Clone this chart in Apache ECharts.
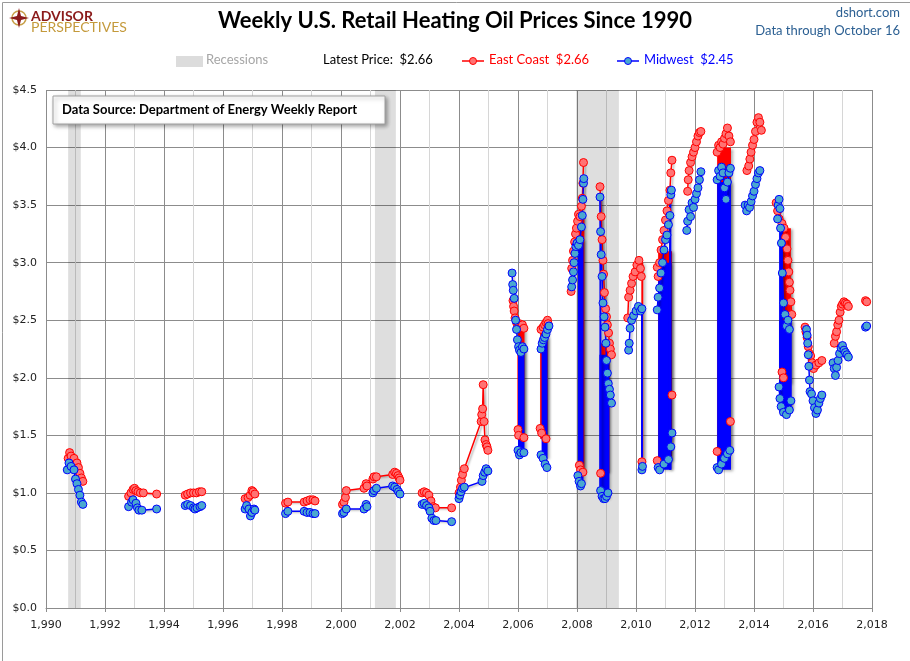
<!doctype html>
<html lang="en">
<head>
  <meta charset="UTF-8">
  <script src="https://cdn.jsdelivr.net/npm/echarts@6/dist/echarts.min.js"></script>
  <title>Weekly U.S. Retail Heating Oil Prices</title>
  <style type="text/css">
    html, body { width: 100%; height: 100%; margin: 0; padding: 0; background: #fff; }
    #canvas { width: 910px; height: 661px; }
  </style>
</head>
<body>
<div id="canvas"></div>

<script type="text/javascript">
  // recession shading, [start, end] in decimal years
  const recessions = [[1990.75, 1991.18], [2001.15, 2001.86], [2007.97, 2009.42]]

  // East Coast weekly prices, split into the runs the chart shows
  const eastCoast = [
    [[1990.75, 1.30], [1990.8, 1.35], [1990.85, 1.32], [1990.95, 1.30], [1991.05, 1.26], [1991.1, 1.22], [1991.15, 1.17], [1991.2, 1.13], [1991.25, 1.10]],
    [[1992.8, 0.97], [1992.88, 1.00], [1992.95, 1.03], [1993.0, 1.04], [1993.05, 1.02], [1993.12, 1.01], [1993.2, 1.00], [1993.3, 1.00], [1993.75, 0.99]],
    [[1994.72, 0.98], [1994.8, 0.99], [1994.9, 1.00], [1995.0, 1.00], [1995.1, 1.00], [1995.2, 1.01], [1995.28, 1.01]],
    [[1996.75, 0.95], [1996.85, 0.96], [1996.92, 0.98], [1996.98, 1.02], [1997.02, 1.01], [1997.08, 0.99]],
    [[1998.12, 0.91], [1998.2, 0.92], [1998.75, 0.92], [1998.85, 0.93], [1998.95, 0.94], [1999.05, 0.94], [1999.12, 0.93]],
    [[2000.05, 0.90], [2000.1, 0.92], [2000.15, 0.96], [2000.18, 1.02], [2000.78, 1.04], [2000.85, 1.08], [2000.88, 1.06]],
    [[2001.08, 1.12], [2001.12, 1.14], [2001.2, 1.14], [2001.75, 1.16], [2001.82, 1.18], [2001.88, 1.17], [2001.93, 1.15], [2001.97, 1.13], [2002.0, 1.11]],
    [[2002.75, 1.00], [2002.82, 1.01], [2002.9, 1.00], [2002.98, 0.98], [2003.05, 0.93], [2003.12, 0.88], [2003.2, 0.87], [2003.75, 0.87]],
    [[2004.0, 1.00], [2004.05, 1.05], [2004.08, 1.11], [2004.12, 1.16], [2004.18, 1.21], [2004.75, 1.62], [2004.77, 1.68], [2004.8, 1.73], [2004.82, 1.94], [2004.85, 1.62], [2004.88, 1.46], [2004.92, 1.42], [2004.95, 1.40], [2004.98, 1.37]],
    [[2005.83, 2.67], [2005.85, 2.62], [2005.87, 2.58], [2005.9, 2.52], [2005.95, 2.48], [2006.0, 2.45], [2006.05, 2.47], [2006.1, 2.44], [2006.15, 2.46], [2006.2, 2.43]],
    [[2006.0, 1.55], [2006.02, 1.50], [2006.2, 1.48]],
    [[2006.78, 2.42], [2006.85, 2.44], [2006.9, 2.46], [2006.95, 2.48], [2007.0, 2.50], [2007.02, 2.47]],
    [[2006.75, 1.56], [2006.8, 1.52], [2006.95, 1.47]],
    [[2007.8, 2.75], [2007.82, 2.95], [2007.85, 3.02], [2007.88, 3.10], [2007.92, 3.18], [2007.95, 3.25], [2007.98, 3.30], [2008.02, 3.36], [2008.05, 3.42], [2008.1, 3.40], [2008.15, 3.49], [2008.18, 3.56], [2008.2, 3.69], [2008.22, 3.87]],
    [[2008.08, 1.24], [2008.12, 1.20], [2008.2, 1.18]],
    [[2008.78, 3.66], [2008.82, 3.40], [2008.85, 3.20], [2008.88, 3.02], [2008.9, 2.90], [2008.93, 2.74], [2008.97, 2.60], [2009.0, 2.53], [2009.03, 2.46], [2009.07, 2.39], [2009.1, 2.30], [2009.13, 2.25], [2009.17, 2.20]],
    [[2008.8, 1.17]],
    [[2009.72, 2.52], [2009.75, 2.70], [2009.8, 2.76], [2009.85, 2.82], [2009.9, 2.88], [2009.97, 2.92], [2010.03, 2.98], [2010.1, 3.02], [2010.15, 2.95], [2010.18, 2.88]],
    [[2010.2, 1.27]],
    [[2010.72, 2.96], [2010.75, 2.88], [2010.8, 3.00], [2010.85, 3.11], [2010.9, 3.20], [2010.95, 3.28], [2011.0, 3.37], [2011.05, 3.45], [2011.1, 3.54], [2011.15, 3.63], [2011.18, 3.78], [2011.22, 3.89]],
    [[2010.72, 1.28]],
    [[2011.22, 1.85]],
    [[2011.75, 3.62], [2011.77, 3.72], [2011.8, 3.80], [2011.85, 3.87], [2011.9, 3.92], [2011.95, 3.96], [2012.0, 4.00], [2012.05, 4.05], [2012.1, 4.10], [2012.15, 4.13], [2012.2, 4.14]],
    [[2012.75, 3.96], [2012.8, 4.02], [2012.85, 4.00], [2012.9, 4.05], [2012.95, 4.03], [2013.0, 4.08], [2013.05, 4.12], [2013.1, 4.17], [2013.15, 4.10], [2013.2, 4.05]],
    [[2012.75, 1.36]],
    [[2013.2, 1.62]],
    [[2013.76, 3.80], [2013.82, 3.84], [2013.86, 3.90], [2013.9, 3.96], [2013.95, 4.02], [2014.0, 4.07], [2014.05, 4.14], [2014.1, 4.22], [2014.15, 4.26], [2014.2, 4.22], [2014.25, 4.15]],
    [[2014.75, 3.52], [2014.8, 3.45], [2014.85, 3.38], [2014.95, 3.34], [2015.02, 3.30], [2015.07, 3.22], [2015.12, 3.12], [2015.15, 3.02], [2015.18, 2.92], [2015.2, 2.83], [2015.22, 2.76], [2015.25, 2.66], [2015.28, 2.55]],
    [[2014.95, 2.05], [2015.0, 2.00]],
    [[2015.73, 2.44], [2015.76, 2.40], [2015.8, 2.35], [2015.84, 2.27], [2015.88, 2.21], [2015.92, 2.19], [2015.97, 2.13], [2016.02, 2.08], [2016.1, 2.11], [2016.2, 2.13], [2016.3, 2.15]],
    [[2016.72, 2.30], [2016.76, 2.36], [2016.8, 2.40], [2016.84, 2.46], [2016.88, 2.50], [2016.92, 2.57], [2016.96, 2.62], [2017.0, 2.64], [2017.05, 2.66], [2017.1, 2.65], [2017.15, 2.64], [2017.2, 2.62]],
    [[2017.78, 2.67], [2017.82, 2.66]]
  ]

  // Midwest weekly prices
  const midwest = [
    [[1990.72, 1.20], [1990.78, 1.26], [1990.85, 1.23], [1990.95, 1.20], [1991.0, 1.12], [1991.05, 1.08], [1991.1, 1.03], [1991.15, 0.98], [1991.2, 0.92], [1991.25, 0.90]],
    [[1992.8, 0.88], [1992.9, 0.92], [1992.95, 0.94], [1993.05, 0.91], [1993.1, 0.87], [1993.15, 0.85], [1993.25, 0.85], [1993.75, 0.86]],
    [[1994.72, 0.89], [1994.8, 0.90], [1994.9, 0.89], [1995.0, 0.87], [1995.05, 0.86], [1995.12, 0.87], [1995.22, 0.88], [1995.28, 0.89]],
    [[1996.75, 0.86], [1996.8, 0.89], [1996.88, 0.86], [1996.93, 0.80], [1996.98, 0.83], [1997.05, 0.86], [1997.08, 0.85]],
    [[1998.12, 0.82], [1998.2, 0.84], [1998.75, 0.84], [1998.85, 0.83], [1998.95, 0.83], [1999.05, 0.82], [1999.12, 0.82]],
    [[2000.05, 0.82], [2000.1, 0.83], [2000.18, 0.86], [2000.78, 0.86], [2000.85, 0.90], [2000.88, 0.88]],
    [[2001.08, 1.00], [2001.12, 1.02], [2001.2, 1.04], [2001.75, 1.06], [2001.82, 1.05], [2001.9, 1.03], [2001.95, 1.01], [2002.0, 0.99]],
    [[2002.75, 0.90], [2002.82, 0.91], [2002.9, 0.89], [2002.98, 0.87], [2003.02, 0.84], [2003.08, 0.78], [2003.15, 0.76], [2003.22, 0.76], [2003.75, 0.75]],
    [[2004.0, 0.95], [2004.03, 0.98], [2004.07, 1.01], [2004.12, 1.04], [2004.18, 1.05], [2004.78, 1.10], [2004.82, 1.15], [2004.87, 1.18], [2004.92, 1.21], [2004.98, 1.19]],
    [[2005.8, 2.91], [2005.82, 2.81], [2005.84, 2.76], [2005.87, 2.69], [2005.92, 2.50], [2005.95, 2.42], [2005.98, 2.33], [2006.02, 2.27], [2006.05, 2.24], [2006.1, 2.22], [2006.15, 2.27], [2006.2, 2.25]],
    [[2006.0, 1.37], [2006.05, 1.33], [2006.1, 1.35], [2006.2, 1.35]],
    [[2006.78, 2.25], [2006.82, 2.30], [2006.86, 2.33], [2006.9, 2.35], [2006.95, 2.38], [2007.0, 2.42], [2007.05, 2.45]],
    [[2006.78, 1.33], [2006.85, 1.30], [2006.92, 1.25], [2006.98, 1.22]],
    [[2007.82, 2.79], [2007.85, 2.85], [2007.88, 2.92], [2007.9, 3.00], [2007.93, 3.08], [2007.96, 3.14], [2008.0, 3.17], [2008.05, 3.15], [2008.1, 3.20], [2008.15, 3.31], [2008.18, 3.41], [2008.2, 3.55], [2008.22, 3.69], [2008.23, 3.73]],
    [[2008.03, 1.15], [2008.07, 1.10], [2008.12, 1.06], [2008.15, 1.08]],
    [[2008.78, 3.57], [2008.8, 3.27], [2008.82, 3.07], [2008.85, 2.88], [2008.88, 2.65], [2008.92, 2.53], [2008.95, 2.44], [2008.98, 2.30], [2009.0, 2.15], [2009.03, 2.04], [2009.06, 1.95], [2009.1, 1.90], [2009.13, 1.85], [2009.17, 1.78]],
    [[2008.8, 1.02], [2008.85, 0.97], [2008.9, 0.95], [2008.95, 0.95], [2009.0, 0.97], [2009.05, 1.00]],
    [[2009.75, 2.24], [2009.77, 2.30], [2009.8, 2.43], [2009.85, 2.50], [2009.92, 2.54], [2010.0, 2.58], [2010.08, 2.62], [2010.15, 2.58], [2010.2, 2.60]],
    [[2010.2, 1.20], [2010.22, 1.23]],
    [[2010.72, 2.59], [2010.75, 2.70], [2010.8, 2.78], [2010.85, 2.91], [2010.9, 3.00], [2010.95, 3.11], [2011.0, 3.20], [2011.05, 3.24], [2011.1, 3.33], [2011.15, 3.41], [2011.18, 3.59], [2011.2, 3.63]],
    [[2010.75, 1.22], [2010.8, 1.20], [2010.95, 1.25], [2011.1, 1.29], [2011.18, 1.40], [2011.22, 1.52]],
    [[2011.72, 3.28], [2011.75, 3.36], [2011.8, 3.46], [2011.85, 3.40], [2011.9, 3.52], [2011.95, 3.48], [2012.0, 3.55], [2012.05, 3.60], [2012.1, 3.65], [2012.15, 3.72], [2012.2, 3.79]],
    [[2012.75, 3.72], [2012.8, 3.80], [2012.85, 3.75], [2012.9, 3.83], [2012.95, 3.78], [2013.0, 3.65], [2013.05, 3.55], [2013.1, 3.70], [2013.15, 3.78], [2013.2, 3.82]],
    [[2012.75, 1.22], [2012.8, 1.20], [2012.9, 1.25], [2013.0, 1.30], [2013.1, 1.34], [2013.18, 1.37]],
    [[2013.7, 3.50], [2013.75, 3.45], [2013.8, 3.50], [2013.85, 3.48], [2013.9, 3.53], [2013.95, 3.58], [2014.0, 3.62], [2014.05, 3.68], [2014.1, 3.73], [2014.15, 3.78], [2014.2, 3.80]],
    [[2014.8, 3.38], [2014.82, 3.50], [2014.85, 3.55], [2014.88, 3.47], [2014.9, 3.30], [2014.93, 3.17], [2014.96, 2.91], [2015.0, 2.65], [2015.05, 2.55], [2015.1, 2.45], [2015.15, 2.50], [2015.2, 2.42]],
    [[2014.85, 1.92], [2014.88, 1.82], [2014.92, 1.75], [2015.0, 1.70], [2015.1, 1.68], [2015.2, 1.72], [2015.25, 1.80]],
    [[2015.78, 2.42], [2015.8, 2.37], [2015.82, 2.30], [2015.84, 2.20], [2015.86, 2.10], [2015.88, 1.98], [2015.9, 1.88], [2015.95, 1.86], [2016.0, 1.80], [2016.05, 1.74], [2016.1, 1.69], [2016.15, 1.72], [2016.2, 1.78], [2016.25, 1.82], [2016.3, 1.85]],
    [[2016.68, 2.13], [2016.72, 2.08], [2016.76, 2.02], [2016.8, 2.09], [2016.85, 2.15], [2016.9, 2.21], [2016.95, 2.26], [2017.0, 2.28], [2017.05, 2.24], [2017.1, 2.22], [2017.15, 2.20], [2017.2, 2.18]],
    [[2017.78, 2.44], [2017.82, 2.45]]
  ]

  // solid zig-zag blocks where weeks jump between high and low: [x0, x1, low, high]
  const eastBands = [
    [2005.98, 2006.22, 1.47, 2.45], [2006.75, 2007.0, 1.47, 2.45], [2008.05, 2008.25, 1.18, 3.40],
    [2008.8, 2009.1, 1.17, 2.30], [2010.18, 2010.22, 1.27, 3.00], [2010.75, 2011.22, 1.28, 3.10],
    [2012.75, 2013.22, 1.36, 4.00], [2014.95, 2015.25, 1.95, 3.30]
  ]
  const midwestBands = [
    [2006.0, 2006.22, 1.35, 2.25], [2006.8, 2007.0, 1.30, 2.35], [2008.03, 2008.22, 1.08, 3.20],
    [2008.76, 2009.1, 0.95, 2.20], [2008.76, 2008.82, 0.95, 3.57], [2010.17, 2010.22, 1.20, 2.60],
    [2010.75, 2011.2, 1.20, 3.00], [2011.12, 2011.2, 1.20, 3.60], [2012.75, 2013.22, 1.20, 3.70],
    [2014.85, 2014.98, 1.70, 3.40], [2014.85, 2015.28, 1.72, 2.50]
  ]

  const RED = '#ff0000'
  const BLUE = '#0000ff'
  const lastOf = segs => { const s = segs[segs.length - 1]; return s[s.length - 1][1] }
  const eastLatest = lastOf(eastCoast)
  const midLatest = lastOf(midwest)

  const chart = echarts.init(document.getElementById('canvas'))

  const bandSeries = (bands, color) => ({
    type: 'custom',
    data: bands,
    encode: { x: [0, 1], y: [2, 3] },
    renderItem: (params, api) => {
      const a = api.coord([api.value(0), api.value(3)])
      const b = api.coord([api.value(1), api.value(2)])
      return {
        type: 'rect',
        shape: { x: a[0], y: a[1], width: Math.max(b[0] - a[0], 2), height: b[1] - a[1] },
        style: { fill: color, shadowBlur: 3, shadowOffsetX: 2, shadowOffsetY: 1, shadowColor: 'rgba(0,0,0,0.35)' }
      }
    },
    silent: true
  })

  const lineSeries = (segs, color, fill) => segs.map(seg => ({
    type: 'line',
    data: seg,
    symbol: 'circle',
    symbolSize: 8,
    showAllSymbol: true,
    animation: false,
    lineStyle: { color: color, width: 1.5, shadowBlur: 2, shadowOffsetX: 2, shadowOffsetY: 1, shadowColor: 'rgba(0,0,0,0.3)' },
    itemStyle: { color: fill, borderColor: color, borderWidth: 1 },
    silent: true
  }))

  const series = [
    {
      type: 'line',
      data: [],
      markArea: {
        silent: true,
        itemStyle: { color: 'rgba(0,0,0,0.13)' },
        data: recessions.map(r => [{ xAxis: r[0] }, { xAxis: r[1] }])
      }
    },
    bandSeries(eastBands, RED),
    ...lineSeries(eastCoast, RED, '#ff7373'),
    bandSeries(midwestBands, BLUE),
    ...lineSeries(midwest, BLUE, '#4aa8cf')
  ]

  const font = 'Lato, "Open Sans", sans-serif'

  chart.setOption({
    animation: false,
    grid: { left: 46, right: 38, top: 90, bottom: 53 },
    xAxis: [
      {
        type: 'value', min: 1990, max: 2018, interval: 1,
        axisLabel: { show: false }, axisTick: { show: false }, axisLine: { show: false },
        splitLine: { show: true, lineStyle: { color: ['#8c8c8c', '#d6d6d6'], width: 1 } }
      },
      {
        type: 'value', min: 1990, max: 2018, interval: 2, position: 'bottom',
        axisLine: { show: true, lineStyle: { color: '#8c8c8c' } },
        axisTick: { show: true, length: 4, lineStyle: { color: '#8c8c8c' } },
        axisLabel: { fontSize: 11, color: '#222', fontFamily: '"DejaVu Sans"', margin: 12 },
        splitLine: { show: false }
      }
    ],
    yAxis: {
      type: 'value', min: 0, max: 4.5, interval: 0.5,
      axisLine: { show: false }, axisTick: { show: false },
      axisLabel: { fontSize: 11, color: '#222', fontFamily: '"DejaVu Sans"', margin: 9, formatter: v => '$' + v.toFixed(1) },
      splitLine: { lineStyle: { color: '#8c8c8c' } }
    },
    graphic: [
      { type: 'rect', left: 0, top: 0, shape: { width: 909, height: 660 }, style: { fill: 'none', stroke: '#9a9a9a', lineWidth: 1 }, z: 100 },
      // logo
      { type: 'circle', shape: { cx: 19, cy: 18, r: 7 }, style: { fill: 'none', stroke: '#c8a04a', lineWidth: 1.5 } },
      { type: 'polygon', shape: { points: [[19, 8], [21, 16], [29, 18], [21, 20], [19, 28], [17, 20], [9, 18], [17, 16]] }, style: { fill: '#8b1a1a' } },
      { type: 'text', left: 31, top: 9, style: { text: 'ADVISOR', fontSize: 14, fontWeight: 'bold', fill: '#8b1a1a', fontFamily: font } },
      { type: 'text', left: 31, top: 20, style: { text: 'PERSPECTIVES', fontSize: 14, fill: '#c49a3c', fontFamily: font } },
      // title
      { type: 'text', left: 'center', top: 10, style: { text: 'Weekly U.S. Retail Heating Oil Prices Since 1990', fontSize: 22, fontWeight: 'bold', fill: '#000', fontFamily: font } },
      { type: 'text', right: 10, top: 6, style: { text: 'dshort.com', fontSize: 13, fill: '#2b5f92', fontFamily: font } },
      { type: 'text', right: 10, top: 24, style: { text: 'Data through October 16', fontSize: 13, fill: '#2b5f92', fontFamily: font } },
      // legend row
      { type: 'rect', shape: { x: 176, y: 56, width: 27, height: 11 }, style: { fill: '#dcdcdc' } },
      { type: 'text', left: 206, top: 53, style: { text: 'Recessions', fontSize: 13, fill: '#a6a6a6', fontFamily: font } },
      { type: 'text', left: 323, top: 53, style: { text: 'Latest Price:  $' + eastLatest.toFixed(2), fontSize: 13, fill: '#000', fontFamily: font } },
      { type: 'line', shape: { x1: 462, y1: 61, x2: 484, y2: 61 }, style: { stroke: RED, lineWidth: 1.5 } },
      { type: 'circle', shape: { cx: 473, cy: 61, r: 3.5 }, style: { fill: '#ff7373', stroke: RED } },
      { type: 'text', left: 489, top: 53, style: { text: 'East Coast  $' + eastLatest.toFixed(2), fontSize: 13, fill: RED, fontFamily: font } },
      { type: 'line', shape: { x1: 617, y1: 61, x2: 639, y2: 61 }, style: { stroke: BLUE, lineWidth: 1.5 } },
      { type: 'circle', shape: { cx: 628, cy: 61, r: 3.5 }, style: { fill: '#4aa8cf', stroke: BLUE } },
      { type: 'text', left: 644, top: 53, style: { text: 'Midwest  $' + midLatest.toFixed(2), fontSize: 13, fill: BLUE, fontFamily: font } },
      // source box
      {
        type: 'rect', shape: { x: 53, y: 96, width: 332, height: 28 },
        style: { fill: '#fff', stroke: '#a0a0a0', lineWidth: 1, shadowBlur: 4, shadowOffsetX: 2, shadowOffsetY: 2, shadowColor: 'rgba(0,0,0,0.35)' }, z: 50
      },
      { type: 'text', left: 62, top: 103, style: { text: 'Data Source: Department of Energy Weekly Report', fontSize: 13, fontWeight: 'bold', fill: '#000', fontFamily: font }, z: 51 }
    ],
    series: series
  })
</script>
</body>
</html>
